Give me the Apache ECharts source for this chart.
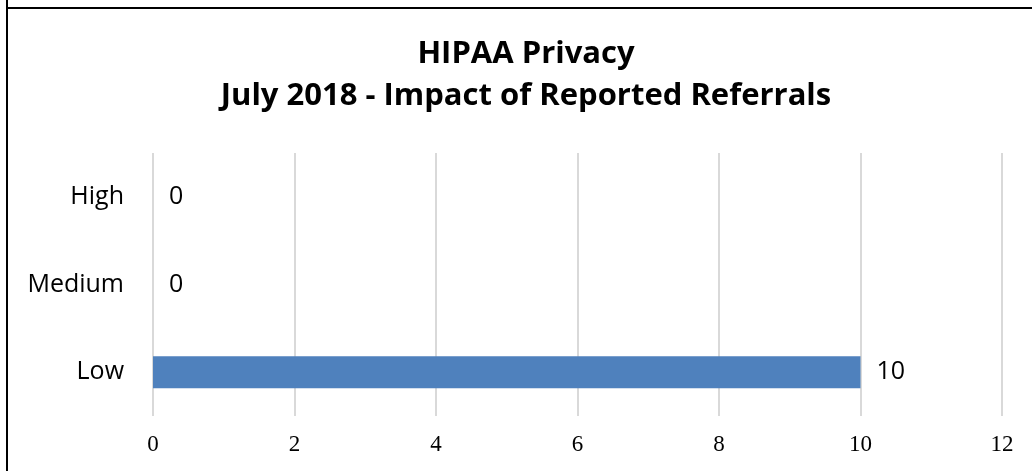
<!DOCTYPE html>
<html>
<head>
<meta charset="utf-8">
<script src="https://cdn.jsdelivr.net/npm/echarts@6/dist/echarts.min.js"></script>
<style>
html,body{margin:0;padding:0;background:#fff;}
#c{width:1032px;height:471px;}
</style>
</head>
<body>
<div id="c"></div>
<script>
var titleLines = ['HIPAA Privacy', 'July 2018 - Impact of Reported Referrals'];
var categories = ['Low', 'Medium', 'High'];
var values = [10, 0, 0];
var xTicks = { min: 0, max: 12, interval: 2 };

var chart = echarts.init(document.getElementById('c'), null, { renderer: 'canvas' });
chart.setOption({
  backgroundColor: '#fff',
  animation: false,
  graphic: [
    { type: 'line', shape: { x1: 7, y1: 0, x2: 7, y2: 471 }, style: { stroke: '#000', lineWidth: 2 }, z: 10 },
    { type: 'line', shape: { x1: 6, y1: 8, x2: 1032, y2: 8 }, style: { stroke: '#000', lineWidth: 2 }, z: 10 },
    {
      type: 'text', x: 526, y: 33,
      style: {
        text: titleLines.join('\n'), textAlign: 'center', textVerticalAlign: 'top',
        fontFamily: 'Open Sans', fontWeight: 'bold', fontSize: 31, lineHeight: 42, fill: '#000'
      }
    }
  ],
  grid: { left: 153, right: 30, top: 153, bottom: 55, containLabel: false },
  xAxis: {
    type: 'value', min: xTicks.min, max: xTicks.max, interval: xTicks.interval,
    axisLine: { show: false }, axisTick: { show: false },
    splitLine: { show: true, lineStyle: { color: '#d9d9d9', width: 2 } },
    axisLabel: { color: '#000', fontFamily: 'Liberation Serif', fontSize: 23, margin: 17 }
  },
  yAxis: {
    type: 'category', data: categories,
    axisLine: { show: false }, axisTick: { show: false },
    splitLine: { show: false },
    axisLabel: { color: '#000', fontFamily: 'Open Sans', fontSize: 25, margin: 29 }
  },
  series: [{
    type: 'bar', data: values, barWidth: 32,
    itemStyle: { color: '#4F81BD' },
    label: { show: true, position: 'right', distance: 16, color: '#000', fontFamily: 'Open Sans', fontSize: 25 }
  }]
});
</script>
</body>
</html>
